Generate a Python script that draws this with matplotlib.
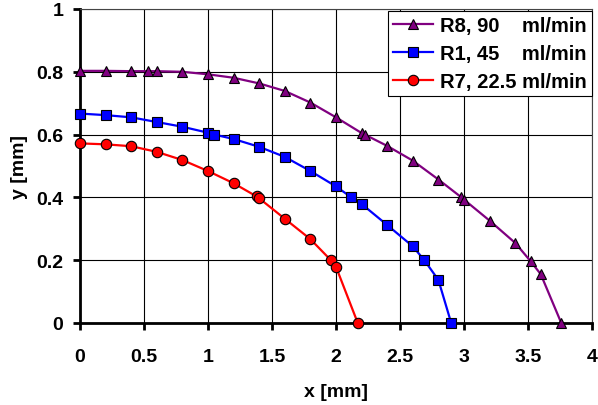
import matplotlib
matplotlib.use("Agg")
import matplotlib.pyplot as plt
import matplotlib.ticker as mticker

plt.rcParams['font.family'] = ['Liberation Sans', 'DejaVu Sans']
plt.rcParams['font.weight'] = 'bold'

# R8, 90 ml/min
x_r8 = [0, 0.2, 0.4, 0.53, 0.6, 0.8, 1.0, 1.2, 1.4, 1.6, 1.8, 2.0, 2.2, 2.23,
        2.4, 2.6, 2.8, 2.98, 3.0, 3.2, 3.4, 3.52, 3.6, 3.76]
y_r8 = [0.803, 0.803, 0.802, 0.802, 0.802, 0.8, 0.792, 0.781, 0.763, 0.739, 0.702,
        0.655, 0.605, 0.599, 0.564, 0.517, 0.457, 0.4, 0.393, 0.326, 0.255, 0.197,
        0.155, 0]

# R1, 45 ml/min
x_r1 = [0, 0.2, 0.4, 0.6, 0.8, 1.0, 1.05, 1.2, 1.4, 1.6, 1.8, 2.0, 2.12, 2.2,
        2.4, 2.6, 2.69, 2.8, 2.9]
y_r1 = [0.667, 0.662, 0.655, 0.64, 0.625, 0.606, 0.6, 0.586, 0.561, 0.529, 0.484,
        0.435, 0.4, 0.379, 0.312, 0.244, 0.2, 0.137, 0]

# R7, 22.5 ml/min
x_r7 = [0, 0.2, 0.4, 0.6, 0.8, 1.0, 1.2, 1.38, 1.4, 1.6, 1.8, 1.96, 2.0, 2.17]
y_r7 = [0.572, 0.569, 0.563, 0.545, 0.519, 0.484, 0.445, 0.403, 0.397, 0.332,
        0.267, 0.2, 0.179, 0]

labels = ["R8, 90    ml/min", "R1, 45    ml/min", "R7, 22.5 ml/min"]

fig = plt.figure(figsize=(5.98, 4.06), dpi=100)
ax = fig.add_axes([80 / 598, 1 - 324 / 406, 512 / 598, 314 / 406])

style = dict(lw=1.6, markeredgecolor='black', markeredgewidth=0.8, clip_on=False, zorder=3)
ax.plot(x_r8, y_r8, color='#800080', marker='^', markersize=7.5, label=labels[0], **style)
ax.plot(x_r1, y_r1, color='#0000FF', marker='s', markersize=7, label=labels[1], **style)
ax.plot(x_r7, y_r7, color='#FF0000', marker='o', markersize=7.5, label=labels[2], **style)

ax.set_xlim(0, 4)
ax.set_ylim(0, 1)
ax.xaxis.set_major_locator(mticker.MultipleLocator(0.5))
ax.yaxis.set_major_locator(mticker.MultipleLocator(0.2))
fmt = mticker.FuncFormatter(lambda v, p: f"{v:g}")
ax.xaxis.set_major_formatter(fmt)
ax.yaxis.set_major_formatter(fmt)
ax.grid(True, color='black', lw=0.8)
ax.set_axisbelow(True)

for s in ['top', 'right']:
    ax.spines[s].set_linewidth(0.8)
    ax.spines[s].set_color('#444444')
for s in ['left', 'bottom']:
    ax.spines[s].set_linewidth(2)
ax.tick_params(direction='out', length=5, width=2, labelsize=14)
ax.tick_params(axis='x', pad=13)
ax.tick_params(axis='y', pad=7)

ax.set_xlabel('x [mm]', fontsize=14, fontweight='bold', labelpad=13)
ax.set_ylabel('y [mm]', fontsize=14, fontweight='bold', labelpad=6)

leg = ax.legend(loc='upper right', bbox_to_anchor=(1.0, 0.994), fontsize=14.5,
                frameon=True, fancybox=False, framealpha=1, edgecolor='black',
                handlelength=2.0, handletextpad=0.35, borderpad=0.25,
                labelspacing=0.45, borderaxespad=0)
leg.get_frame().set_linewidth(0.8)

fig.savefig('out.png', dpi=100)
